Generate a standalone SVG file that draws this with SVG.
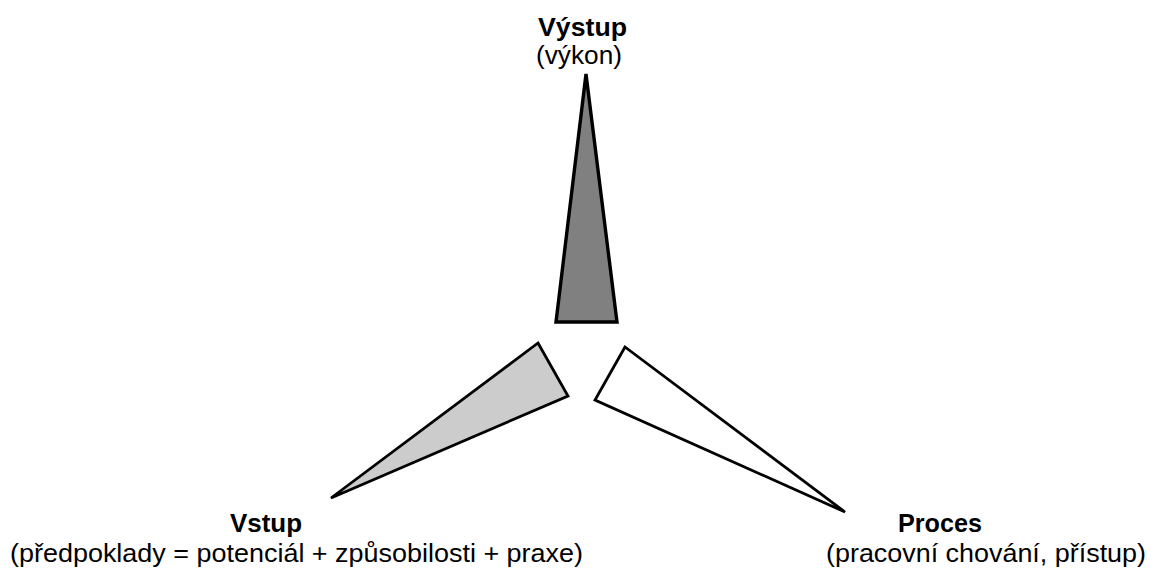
<svg xmlns="http://www.w3.org/2000/svg" width="1151" height="570" viewBox="0 0 1151 570">
<style>
.tri{stroke:#000;stroke-linejoin:miter;}
.b{font-family:"Liberation Sans",Arial,sans-serif;font-weight:bold;font-size:25px;fill:#000;}
.r{font-family:"Liberation Sans",Arial,sans-serif;font-size:25px;fill:#000;}
</style>
<rect width="1151" height="570" fill="#fff"/>
<g id="output">
<polygon class="tri" points="586,74 617,322 556,322" fill="#808080" stroke-width="3.4"/>
<text class="b" x="538" y="36" textLength="89" lengthAdjust="spacingAndGlyphs">Výstup</text>
<text class="r" x="536" y="64" textLength="86" lengthAdjust="spacingAndGlyphs">(výkon)</text>
</g>
<g id="input">
<polygon class="tri" points="538,343 568,396 331,498" fill="#cccccc" stroke-width="2.8"/>
<text class="b" x="230" y="532" textLength="72" lengthAdjust="spacingAndGlyphs">Vstup</text>
<text class="r" x="10" y="562" textLength="573" lengthAdjust="spacingAndGlyphs">(předpoklady = potenciál + způsobilosti + praxe)</text>
</g>
<g id="process">
<polygon class="tri" points="625,347 595,400 845,512" fill="#fff" stroke-width="2.8"/>
<text class="b" x="898" y="532" textLength="84" lengthAdjust="spacingAndGlyphs">Proces</text>
<text class="r" x="826" y="562" textLength="320" lengthAdjust="spacingAndGlyphs">(pracovní chování, přístup)</text>
</g>
<g id="connectors"></g>
</svg>
